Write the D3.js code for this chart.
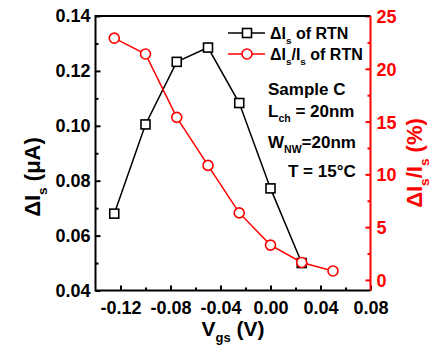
<!DOCTYPE html>
<html>
<head>
<meta charset="utf-8">
<script src="https://cdn.jsdelivr.net/npm/d3@7"></script>
<style>
  body { margin: 0; background: #fff; }
  text { font-family: "Liberation Sans", Arial, sans-serif; font-weight: bold; }
</style>
</head>
<body>
<script>
// data
var vgs = [-0.125, -0.1, -0.075, -0.05, -0.025, 0, 0.025, 0.05]
var dIs = [0.068, 0.1005, 0.1233, 0.1285, 0.1083, 0.0772, 0.050]        // uA, 7 points
var dIsRatio = [22.9, 21.4, 15.4, 10.85, 6.35, 3.3, 1.65, 0.85]        // %
var xTicks = [-0.12, -0.08, -0.04, 0.00, 0.04, 0.08]
var yTicks = [0.04, 0.06, 0.08, 0.10, 0.12, 0.14]
var y2Ticks = [0, 5, 10, 15, 20, 25]

var W = 446, H = 348
var m = {left: 95.5, right: 370.5, top: 16, bottom: 290.5}

var svg = d3.select('body').append('svg').
  attr('width', W).
  attr('height', H)

var x = d3.scaleLinear().domain([-0.14, 0.08]).range([m.left, m.right])
var y = d3.scaleLinear().domain([0.04, 0.14]).range([m.bottom, m.top])
var y2 = d3.scaleLinear().domain([-1, 25]).range([m.bottom, m.top])

var red = '#ff0000'
// plain hyphen instead of the unicode minus, as in the original
var fmt2 = function (d) { return d3.format('.2f')(d).replace('\u2212', '-') }

// bottom axis: major ticks with labels, minor in between, ticks inward
var xAxis = svg.append('g').attr('transform', 'translate(0,' + m.bottom + ')')
xAxis.call(d3.axisBottom(x).tickValues(xTicks).tickSize(-5).tickPadding(11).
  tickFormat(fmt2))
xAxis.append('g').call(d3.axisBottom(x).tickValues([-0.10, -0.06, -0.02, 0.02, 0.06]).
  tickSize(-3).tickFormat(''))

var yAxis = svg.append('g').attr('transform', 'translate(' + m.left + ',0)')
yAxis.call(d3.axisLeft(y).tickValues(yTicks).tickSize(-5).tickPadding(5).
  tickFormat(fmt2))
yAxis.append('g').call(d3.axisLeft(y).tickValues([0.05, 0.07, 0.09, 0.11, 0.13]).
  tickSize(-3).tickFormat(''))

var y2Axis = svg.append('g').attr('transform', 'translate(' + m.right + ',0)')
y2Axis.call(d3.axisRight(y2).tickValues(y2Ticks).tickSize(-5).tickPadding(6))
y2Axis.append('g').call(d3.axisRight(y2).tickValues([2.5, 7.5, 12.5, 17.5, 22.5]).
  tickSize(-3).tickFormat(''))

svg.selectAll('.domain').remove()
svg.selectAll('.tick line').attr('stroke-width', 2)
xAxis.selectAll('text').attr('font-size', 18).attr('fill', '#000')
yAxis.selectAll('text').attr('font-size', 18).attr('fill', '#000')
y2Axis.selectAll('.tick line').attr('stroke', red)
y2Axis.selectAll('text').attr('font-size', 18).attr('fill', red).attr('dy', '0.36em')

// frame
svg.append('path').
  attr('d', 'M' + m.right + ',' + m.top + 'H' + m.left + 'V' + m.bottom + 'H' + m.right).
  attr('fill', 'none').attr('stroke', '#000').attr('stroke-width', 2)
svg.append('line').
  attr('x1', m.right).attr('x2', m.right).attr('y1', m.top).attr('y2', m.bottom).
  attr('stroke', red).attr('stroke-width', 2)

// black series
var blackPts = dIs.map(function (v, i) { return [x(vgs[i]), y(v)] })
svg.append('path').
  attr('d', d3.line()(blackPts)).
  attr('fill', 'none').attr('stroke', '#000').attr('stroke-width', 1.5)
svg.selectAll('.sq').data(blackPts).enter().append('rect').
  attr('x', function (d) { return d[0] - 4.5 }).
  attr('y', function (d) { return d[1] - 4.5 }).
  attr('width', 9).attr('height', 9).
  attr('fill', '#fff').attr('stroke', '#000').attr('stroke-width', 1.6)

// red series
var redPts = dIsRatio.map(function (v, i) { return [x(vgs[i]), y2(v)] })
svg.append('path').
  attr('d', d3.line()(redPts)).
  attr('fill', 'none').attr('stroke', red).attr('stroke-width', 1.5)
svg.selectAll('.ci').data(redPts).enter().append('circle').
  attr('cx', function (d) { return d[0] }).
  attr('cy', function (d) { return d[1] }).
  attr('r', 5).
  attr('fill', '#fff').attr('stroke', red).attr('stroke-width', 1.6)

// legend
function legendRow (yy, color, isCircle, parts) {
  svg.append('line').attr('x1', 228).attr('x2', 265).attr('y1', yy).attr('y2', yy).
    attr('stroke', color).attr('stroke-width', 1.5)
  if (isCircle) {
    svg.append('circle').attr('cx', 247).attr('cy', yy).attr('r', 5).
      attr('fill', '#fff').attr('stroke', color).attr('stroke-width', 1.6)
  } else {
    svg.append('rect').attr('x', 242.5).attr('y', yy - 4.5).attr('width', 9).attr('height', 9).
      attr('fill', '#fff').attr('stroke', color).attr('stroke-width', 1.6)
  }
  richText(270, yy + 6, 16, '#000', parts, 'start')
}

function richText (tx, ty, size, color, parts, anchor, rotate) {
  var t = svg.append('text').
    attr('x', tx).attr('y', ty).
    attr('font-size', size).attr('fill', color).
    attr('text-anchor', anchor || 'start')
  if (rotate) t.attr('transform', 'rotate(' + rotate + ',' + tx + ',' + ty + ')')
  parts.forEach(function (p) {
    var s = t.append('tspan').text(p[0])
    if (p[1] === 'sub') s.attr('font-size', size * 0.62).attr('dy', size * 0.3)
    if (p[1] === 'back') s.attr('dy', -size * 0.3)
  })
  return t
}

legendRow(33, '#000', false, [['ΔI'], ['s', 'sub'], [' of RTN', 'back']])
legendRow(54, red, true, [['ΔI'], ['s', 'sub'], ['/I', 'back'], ['s', 'sub'], [' of RTN', 'back']])

// annotation
richText(268, 95, 17, '#000', [['Sample C']])
richText(268, 117, 17, '#000', [['L'], ['ch', 'sub'], [' = 20nm', 'back']])
richText(268, 148, 17, '#000', [['W'], ['NW', 'sub'], ['=20nm', 'back']])
richText(288, 177, 17, '#000', [['T = 15°C']])

// axis titles
richText(233, 336, 21, '#000', [['V'], ['gs', 'sub'], [' (V)', 'back']], 'middle')
richText(40, 177, 22, '#000', [['ΔI'], ['s', 'sub'], [' (μA)', 'back']], 'middle', -90)
richText(422, 163, 22, red, [['ΔI'], ['s', 'sub'], ['/I', 'back'], ['s', 'sub'], [' (%)', 'back']], 'middle', -90)
</script>
</body>
</html>
